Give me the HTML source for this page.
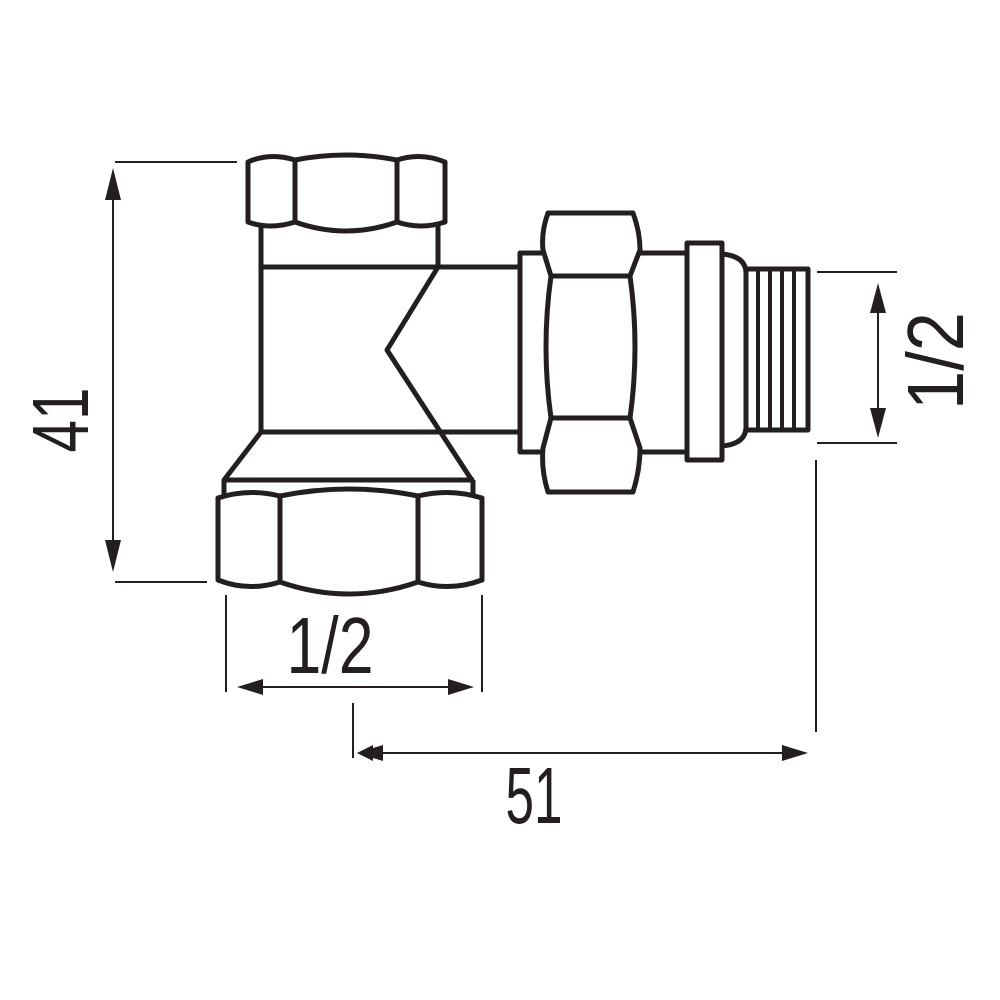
<!DOCTYPE html>
<html><head><meta charset="utf-8"><style>html,body{margin:0;padding:0;background:#fff}svg{display:block}</style></head>
<body>
<svg width="1000" height="1000" viewBox="0 0 1000 1000" xmlns="http://www.w3.org/2000/svg">
<rect width="1000" height="1000" fill="#fff"/>
<g fill="none" stroke="#231f20" stroke-width="5" stroke-linejoin="round">
  <!-- top nut -->
  <path d="M248,162 Q270,152 295,160 Q346,150 397,160 Q421,152 445,162 L445,222 Q421,230 397,222 Q346,240 295,222 Q270,230 248,222 Z"/>
  <line x1="295" y1="160" x2="295" y2="222"/>
  <line x1="397" y1="160" x2="397" y2="222"/>
  <!-- neck -->
  <line x1="261" y1="225" x2="261" y2="432"/>
  <line x1="438" y1="225" x2="438" y2="267"/>
  <!-- body -->
  <line x1="259" y1="267" x2="522" y2="267"/>
  <line x1="259" y1="432" x2="522" y2="432"/>
  <polyline points="438,267 387,350 473,482"/>
  <!-- lower taper -->
  <polyline points="261,432 224,480 474,480"/>
  <line x1="224" y1="480" x2="224" y2="495"/>
  <line x1="473" y1="480" x2="473" y2="495"/>
  <!-- bottom nut -->
  <path d="M218,498 Q248,488 280,496 Q349,482 418,496 Q450,488 482,498 L482,580 Q450,592 418,582 Q349,606 280,582 Q248,592 218,580 Z"/>
  <line x1="280" y1="496" x2="280" y2="582"/>
  <line x1="418" y1="496" x2="418" y2="582"/>
  <!-- union body -->
  <rect x="520" y="253" width="167" height="199"/>
  <!-- hex nut -->
  <path d="M548,213 L633,213 Q640,232 640,250 L630,276 Q640,347 630,418 L640,448 Q640,470 633,492 L548,492 Q541,470 543,448 L551,418 Q541,347 551,276 L543,250 Q541,232 548,213 Z" fill="#fff"/>
  <line x1="551" y1="276" x2="630" y2="276"/>
  <line x1="551" y1="418" x2="630" y2="418"/>
  <!-- flange -->
  <rect x="687" y="243" width="35" height="217" fill="#fff"/>
  <path d="M722,254 Q745,256 746,272 L746,428 Q745,444 722,446"/>
  <!-- thread -->
  <rect x="746" y="269" width="62" height="161"/>
</g>
<g stroke="#231f20" stroke-width="4">
  <line x1="758" y1="269" x2="758" y2="430"/>
  <line x1="770" y1="269" x2="770" y2="430"/>
  <line x1="782" y1="269" x2="782" y2="430"/>
  <line x1="794" y1="269" x2="794" y2="430"/>
</g>
<!-- dimension lines -->
<g stroke="#231f20" stroke-width="2">
  <line x1="115" y1="162" x2="237" y2="162"/>
  <line x1="115" y1="582" x2="207" y2="582"/>
  <line x1="113" y1="190" x2="113" y2="550"/>
  <line x1="226" y1="595" x2="226" y2="692"/>
  <line x1="482" y1="595" x2="482" y2="692"/>
  <line x1="255" y1="687" x2="455" y2="687"/>
  <line x1="353" y1="703" x2="353" y2="758"/>
  <line x1="816" y1="460" x2="816" y2="732"/>
  <line x1="380" y1="753" x2="785" y2="753"/>
  <line x1="817" y1="272" x2="897" y2="272"/>
  <line x1="817" y1="443" x2="897" y2="443"/>
  <line x1="878" y1="305" x2="878" y2="415"/>
</g>
<g fill="#231f20">
  <polygon points="113,168 105,200 121,200"/>
  <polygon points="113,572 105,540 121,540"/>
  <polygon points="237,687 263,679 263,695"/>
  <polygon points="474,687 448,679 448,695"/>
  <polygon points="357,753 373,745 373,761 "/>
  <polygon points="357,753 383,745 383,761"/>
  <polygon points="808,753 782,745 782,761"/>
  <polygon points="878,283 870,313 886,313"/>
  <polygon points="878,438 870,408 886,408"/>
</g>
<g fill="#231f20" font-family="'Liberation Sans', sans-serif" font-size="80" text-anchor="middle">
  <text x="330" y="673" textLength="87" lengthAdjust="spacingAndGlyphs">1/2</text>
  <text x="534" y="823" textLength="57" lengthAdjust="spacingAndGlyphs">51</text>
  <text transform="translate(88,420) rotate(-90)" x="0" y="0" textLength="65" lengthAdjust="spacingAndGlyphs">41</text>
  <text transform="translate(963,361) rotate(-90)" x="0" y="0" textLength="98" lengthAdjust="spacingAndGlyphs">1/2</text>
</g>
</svg>
</body></html>
